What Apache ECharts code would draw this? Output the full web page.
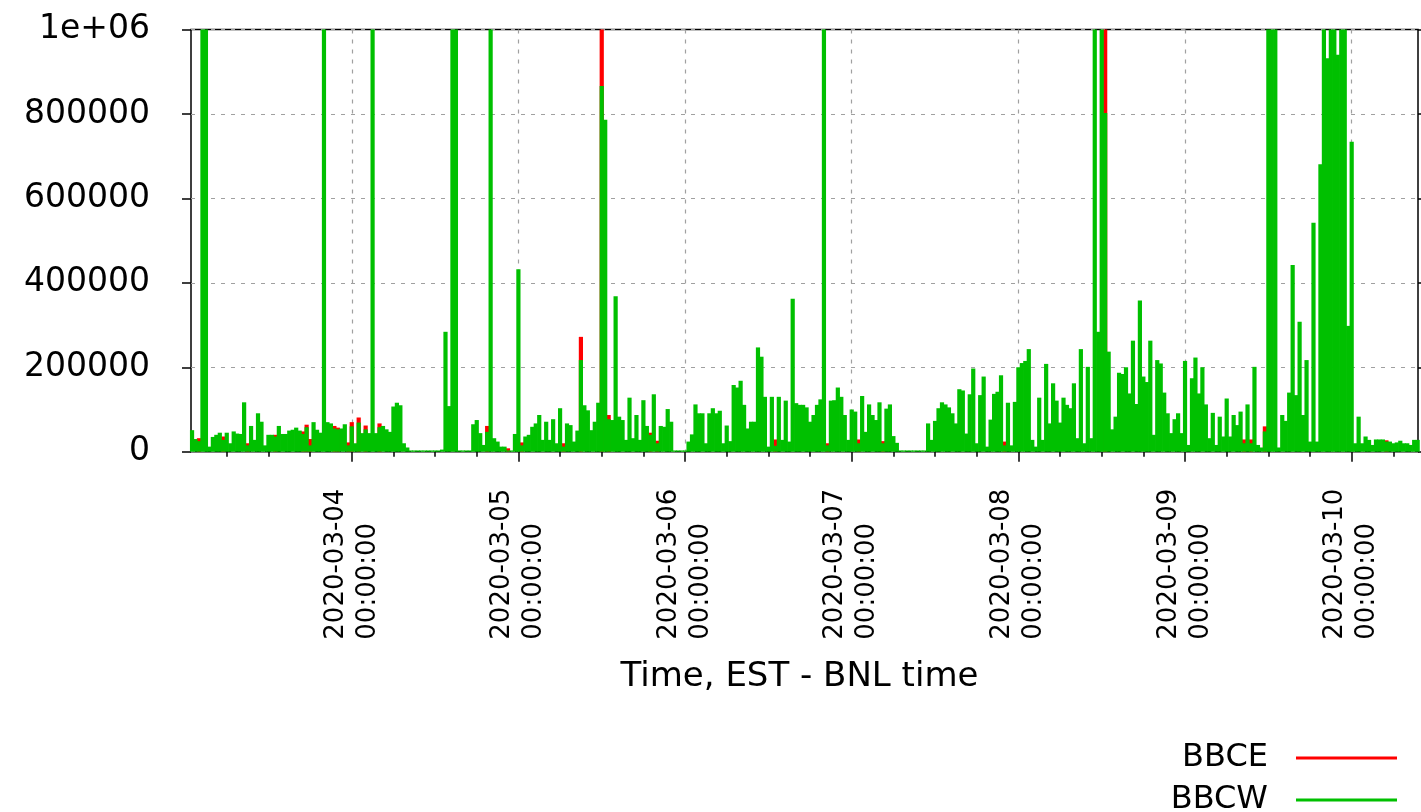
<!DOCTYPE html>
<html><head><meta charset="utf-8">
<script src="https://cdn.jsdelivr.net/npm/echarts@6/dist/echarts.min.js"></script>
<style>html,body{margin:0;padding:0;background:#fff}#chart{width:1421px;height:812px}</style>
</head><body><div id="chart"></div>
<script>
// ---------------- data ----------------
const seriesNames = ['BBCE', 'BBCW'];
const slotMinutes = 30;              // one value per half hour, slot 0 = 00:00
const dayStarts = ['2020-03-03','2020-03-04','2020-03-05','2020-03-06','2020-03-07','2020-03-08','2020-03-09','2020-03-10'];

// BBCW (green) values per half-hour slot
const bbcw_0303 = [null, null, 51000, 30000, 25000, 1000000, 1000000, 12000, 35000, 40000,
  45000, 28000, 45000, 20000, 48000, 43000, 42000, 117000, 15000, 61000,
  28000, 91000, 71000, 15000, 40000, 40000, 36000, 61000, 42000, 42000,
  50000, 52000, 57000, 50000, 42000, 58000, 15000, 70000, 52000, 45000,
  1000000, 70000, 67000, 55000, 53000, 55000, 65000, 15000];
const bbcw_0304 = [60000, 20000, 69000, 44000, 53000, 44000, 1000000, 44000, 58000, 61000,
  53000, 47000, 107000, 116000, 110000, 20000, 10000, 3000, 3000, 3000,
  3000, 3000, 3000, 3000, 3000, 3000, 5000, 284000, 108000, 1000000,
  1000000, 3000, 3000, 3000, 3000, 65000, 75000, 44000, 16000, 47000,
  1000000, 32000, 24000, 12000, 12000, 3000, 3000, 42000];
const bbcw_0305 = [432000, 15000, 36000, 40000, 59000, 67000, 87000, 28000, 71000, 28000,
  77000, 20000, 103000, 12000, 67000, 63000, 24000, 50000, 217000, 110000,
  98000, 51000, 71000, 116000, 866000, 786000, 77000, 75000, 368000, 83000,
  75000, 28000, 128000, 32000, 87000, 28000, 122000, 61000, 40000, 136000,
  20000, 61000, 59000, 101000, 71000, 3000, 3000, 3000];
const bbcw_0306 = [3000, 24000, 41000, 112000, 91000, 91000, 20000, 91000, 103000, 91000,
  97000, 20000, 62000, 25000, 158000, 152000, 168000, 111000, 55000, 71000,
  71000, 247000, 225000, 130000, 12000, 130000, 14000, 130000, 28000, 121000,
  24000, 362000, 115000, 111000, 111000, 105000, 71000, 87000, 111000, 124000,
  1000000, 15000, 121000, 122000, 152000, 130000, 87000, 28000];
const bbcw_0307 = [100000, 95000, 20000, 132000, 47000, 112000, 87000, 75000, 117000, 20000,
  102000, 112000, 37000, 21000, 3000, 3000, 3000, 3000, 3000, 3000,
  3000, 3000, 67000, 28000, 73000, 103000, 117000, 112000, 105000, 91000,
  67000, 148000, 145000, 43000, 136000, 197000, 20000, 134000, 178000, 12000,
  76000, 137000, 142000, 181000, 15000, 116000, 15000, 118000];
const bbcw_0308 = [200000, 210000, 215000, 243000, 28000, 12000, 128000, 28000, 208000, 67000,
  162000, 121000, 69000, 128000, 111000, 103000, 162000, 32000, 243000, 20000,
  201000, 32000, 1000000, 284000, 1000000, 802000, 237000, 53000, 83000, 187000,
  184000, 200000, 138000, 263000, 113000, 358000, 178000, 165000, 263000, 40000,
  217000, 209000, 140000, 91000, 44000, 77000, 91000, 44000];
const bbcw_0309 = [215000, 16000, 174000, 223000, 138000, 200000, 112000, 32000, 92000, 16000,
  83000, 36000, 126000, 36000, 87000, 63000, 95000, 20000, 112000, 20000,
  201000, 16000, 10000, 48000, 1000000, 1000000, 1000000, 10000, 87000, 73000,
  140000, 442000, 134000, 308000, 87000, 217000, 24000, 542000, 24000, 681000,
  1000000, 932000, 1000000, 1000000, 940000, 1000000, 1000000, 298000];
const bbcw_0310 = [734000, 20000, 83000, 20000, 36000, 28000, 16000, 29000, 29000, 29000,
  24000, 24000, 20000, 22000, 26000, 20000, 20000, 16000, 28000, 28000];
const bbcwDays = [bbcw_0303, bbcw_0304, bbcw_0305, bbcw_0306, bbcw_0307, bbcw_0308, bbcw_0309, bbcw_0310];

// BBCE (red): only where it shows above BBCW
const bbceTimes = ['2020-03-03 02:00','2020-03-03 05:30','2020-03-03 09:00','2020-03-03 13:00','2020-03-03 17:00',
  '2020-03-03 17:30','2020-03-03 18:00','2020-03-03 21:30','2020-03-03 22:00','2020-03-03 23:30',
  '2020-03-04 00:00','2020-03-04 01:00','2020-03-04 02:00','2020-03-04 04:00','2020-03-04 19:30','2020-03-04 22:30',
  '2020-03-05 00:30','2020-03-05 06:30','2020-03-05 09:00','2020-03-05 12:00','2020-03-05 13:00','2020-03-05 19:00','2020-03-05 20:00',
  '2020-03-06 13:00','2020-03-06 20:30',
  '2020-03-07 01:00','2020-03-07 04:30','2020-03-07 22:00',
  '2020-03-08 12:30',
  '2020-03-09 08:30','2020-03-09 09:30','2020-03-09 11:30',
  '2020-03-10 05:00'];
const bbceValues = [32000, 36000, 20000, 40000, 48000,
  64000, 30000, 61000, 57000, 22000,
  70000, 81000, 62000, 67000, 61000, 8000,
  22000, 20000, 272000, 1000000, 87000, 45000, 26000,
  29000, 20000,
  29000, 25000, 24000,
  1000000,
  29000, 29000, 60000,
  27000];

const xRange = ['2020-03-03 00:51', '2020-03-10 09:33'];
const xTickTimes = ['2020-03-04 00:00','2020-03-05 00:00','2020-03-06 00:00','2020-03-07 00:00','2020-03-08 00:00','2020-03-09 00:00','2020-03-10 00:00'];
const xTickLabels = ['2020-03-04\n00:00:00','2020-03-05\n00:00:00','2020-03-06\n00:00:00','2020-03-07\n00:00:00','2020-03-08\n00:00:00','2020-03-09\n00:00:00','2020-03-10\n00:00:00'];
const minorTickHours = [6, 12, 18];
const yTickLabels = ['0', '200000', '400000', '600000', '800000', '1e+06'];
const xAxisTitle = 'Time, EST - BNL time';

// ---------------- build ----------------
function toMs(s) {
  const parts = s.split(' ');
  const d = parts[0].split('-').map(Number);
  const t = (parts[1] || '00:00').split(':').map(Number);
  return Date.UTC(d[0], d[1] - 1, d[2], t[0], t[1]);
}
const bbcwData = [];
bbcwDays.forEach((arr, i) => {
  const base = toMs(dayStarts[i]);
  arr.forEach((v, k) => { if (v !== null) bbcwData.push([base + k * slotMinutes * 60000, v]); });
});
const bbceData = bbceTimes.map((t, i) => [toMs(t), bbceValues[i]]);
const xMin = toMs(xRange[0]), xMax = toMs(xRange[1]);
const majorMs = xTickTimes.map(toMs);
const minorMs = [];
dayStarts.forEach(d => minorTickHours.forEach(h => {
  const v = toMs(d) + h * 3600000;
  if (v > xMin && v < xMax) minorMs.push(v);
}));
const FONT = 'DejaVu Sans';

const chart = echarts.init(document.getElementById('chart'), null, {renderer: 'canvas'});
chart.setOption({
  animation: false,
  backgroundColor: '#fff',
  grid: {left: 191, right: 3, top: 29.5, bottom: 360.3, show: true, borderColor: '#000', borderWidth: 1.5},
  legend: {
    orient: 'vertical', right: 24, bottom: -4, padding: 0, align: 'right', icon: 'rect',
    itemWidth: 101, itemHeight: 3, itemGap: 10, data: seriesNames,
    textStyle: {fontFamily: FONT, fontSize: 32, color: '#000', lineHeight: 30, padding: [0, 23, 0, 0]}
  },
  xAxis: [{
    type: 'value', min: xMin, max: xMax, position: 'bottom',
    axisLine: {show: false},
    axisTick: {show: true, customValues: majorMs, length: 10, lineStyle: {color: '#000', width: 1.5}},
    axisLabel: {
      customValues: majorMs, rotate: 90, align: 'left', verticalAlign: 'middle', margin: 188,
      fontFamily: FONT, fontSize: 26, lineHeight: 32, color: '#000',
      formatter: v => { const i = majorMs.indexOf(v); return i >= 0 ? xTickLabels[i] : ''; }
    },
    splitLine: {show: true, lineStyle: {color: '#a0a0a0', type: [4, 6], width: 1.2}},
    name: xAxisTitle, nameLocation: 'middle', nameGap: 208,
    nameTextStyle: {fontFamily: FONT, fontSize: 34, color: '#000', padding: [0, 10, 0, 0]}
  }, {
    type: 'value', min: xMin, max: xMax, position: 'bottom',
    axisLine: {show: false},
    axisTick: {show: true, customValues: minorMs, length: 5, lineStyle: {color: '#000', width: 1.5}},
    axisLabel: {show: false}, splitLine: {show: false}
  }],
  yAxis: [{
    type: 'value', min: 0, max: 1000000, interval: 200000, position: 'left',
    axisLine: {show: false},
    axisTick: {show: true, length: 9, lineStyle: {color: '#000', width: 1.5}},
    axisLabel: {margin: 41, fontFamily: FONT, fontSize: 33, color: '#000',
      formatter: v => yTickLabels[Math.round(v / 200000)]},
    splitLine: {show: true, lineStyle: {color: '#a0a0a0', type: [4, 6], width: 1.2}}
  }, {
    type: 'value', min: 0, max: 1000000, interval: 200000, position: 'right',
    axisLine: {show: false},
    axisTick: {show: true, length: 8, lineStyle: {color: '#000', width: 1.5}},
    axisLabel: {show: false}, splitLine: {show: false}
  }],
  series: [
    {name: 'BBCE', type: 'bar', xAxisIndex: 0, yAxisIndex: 0, data: bbceData, barWidth: 4.2, barGap: '-100%',
      itemStyle: {color: '#ff0000'}},
    {name: 'BBCW', type: 'bar', xAxisIndex: 0, yAxisIndex: 0, data: bbcwData, barWidth: 4.2, barGap: '-100%',
      itemStyle: {color: '#00c000'}}
  ]
});
</script></body></html>
